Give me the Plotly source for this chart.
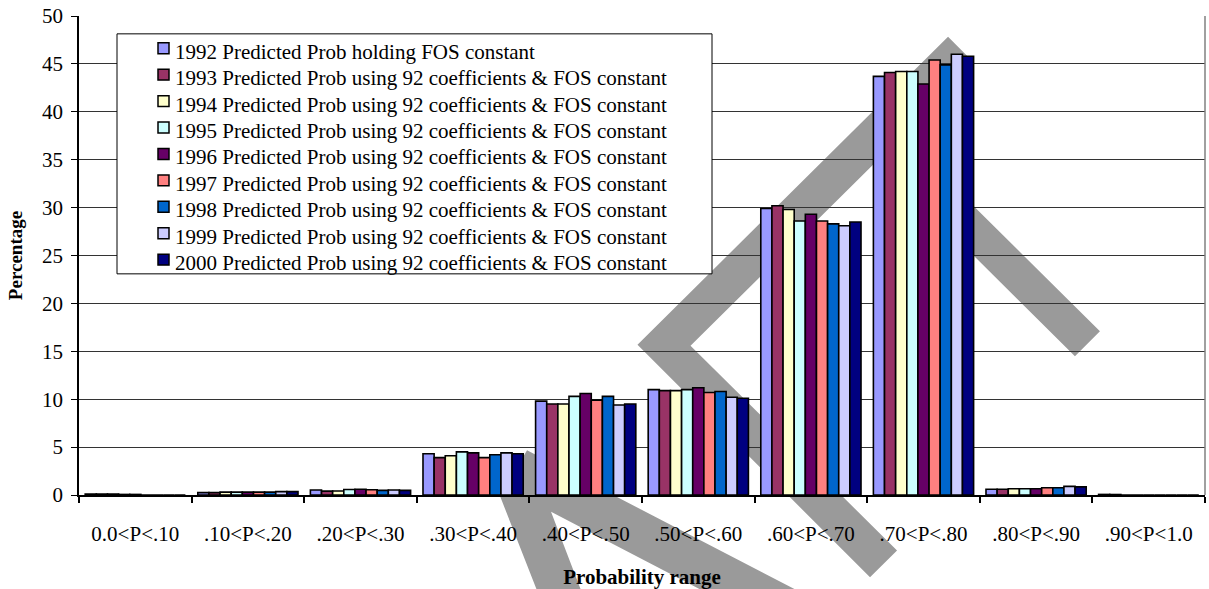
import plotly.graph_objects as go

# Probability ranges on the category axis
categories = ["0.0<P<.10", ".10<P<.20", ".20<P<.30", ".30<P<.40", ".40<P<.50",
              ".50<P<.60", ".60<P<.70", ".70<P<.80", ".80<P<.90", ".90<P<1.0"]

# Percentage of cases in each range, one list per year
pct_1992 = [0.10, 0.25, 0.52, 4.3, 9.8, 11.0, 29.9, 43.7, 0.60, 0.06]
pct_1993 = [0.10, 0.25, 0.40, 3.9, 9.5, 10.9, 30.2, 44.1, 0.60, 0.05]
pct_1994 = [0.10, 0.30, 0.42, 4.1, 9.5, 10.9, 29.8, 44.2, 0.65, 0.0]
pct_1995 = [0.06, 0.30, 0.58, 4.5, 10.3, 11.0, 28.6, 44.2, 0.65, 0.0]
pct_1996 = [0.06, 0.30, 0.60, 4.4, 10.6, 11.2, 29.3, 42.9, 0.65, 0.0]
pct_1997 = [0.0, 0.30, 0.55, 3.9, 9.9, 10.7, 28.6, 45.4, 0.75, 0.0]
pct_1998 = [0.0, 0.30, 0.48, 4.2, 10.3, 10.8, 28.3, 44.9, 0.75, 0.0]
pct_1999 = [0.0, 0.35, 0.52, 4.4, 9.4, 10.2, 28.1, 46.0, 0.90, 0.0]
pct_2000 = [0.0, 0.35, 0.48, 4.3, 9.5, 10.1, 28.5, 45.8, 0.85, 0.0]

series_names = [
    "1992 Predicted Prob holding FOS constant",
    "1993 Predicted Prob using 92 coefficients & FOS constant",
    "1994 Predicted Prob using 92 coefficients & FOS constant",
    "1995 Predicted Prob using 92 coefficients & FOS constant",
    "1996 Predicted Prob using 92 coefficients & FOS constant",
    "1997 Predicted Prob using 92 coefficients & FOS constant",
    "1998 Predicted Prob using 92 coefficients & FOS constant",
    "1999 Predicted Prob using 92 coefficients & FOS constant",
    "2000 Predicted Prob using 92 coefficients & FOS constant",
]
series_values = [pct_1992, pct_1993, pct_1994, pct_1995, pct_1996,
                 pct_1997, pct_1998, pct_1999, pct_2000]
series_colors = ["#9999FF", "#993366", "#FFFFCC", "#CCFFFF", "#660066",
                 "#FF8080", "#0066CC", "#CCCCFF", "#000080"]

W, H = 1209, 589
M_L, M_R, M_T, M_B = 79, 4, 14, 92
PW, PH = W - M_L - M_R, H - M_T - M_B
SERIF = "Liberation Serif, Times New Roman, serif"
FS = 21

fig = go.Figure()
for name, vals, col in zip(series_names, series_values, series_colors):
    fig.add_trace(go.Bar(
        x=categories, y=vals, name=name, showlegend=False,
        marker=dict(color=col, line=dict(color="black", width=1.6)),
    ))


def px_x(px):
    return (px - M_L) / PW


def px_y(py):
    return (H - M_B - py) / PH


def poly_path(pts):
    return "M" + " L".join(f"{px_x(x):.4f},{px_y(y):.4f}" for x, y in pts) + " Z"


# grey background stamp behind the plot
stamp_main = [(870, 580), (637.5, 345.5), (948, 35), (970, 57), (970, 202),
              (1100, 332), (1075, 357), (930, 212), (930, 107),
              (690.5, 346.5), (897, 553)]
stamp_low = [(527, 452), (812, 601), (717, 601), (551, 514),
             (584, 601), (540, 601), (500, 498)]

shapes = []
for pts in (stamp_main, stamp_low):
    shapes.append(dict(type="path", xref="paper", yref="paper",
                       path=poly_path(pts), fillcolor="#9a9a9a",
                       line=dict(width=0), layer="below"))
# right frame of the plot area
shapes.append(dict(type="line", xref="paper", yref="paper", x0=1, x1=1, y0=0, y1=1,
                   line=dict(color="#808080", width=1.5)))

# legend panel: white box, one colour key and label per series
LEG_L, LEG_T, LEG_R, LEG_B = 117, 32, 712, 274
ROW0, ROW_STEP = 50, 26.65
shapes.append(dict(type="rect", xref="paper", yref="paper",
                   x0=px_x(LEG_L), x1=px_x(LEG_R), y0=px_y(LEG_B), y1=px_y(LEG_T),
                   fillcolor="white", line=dict(color="black", width=1), layer="above"))
annotations = []
for i, (name, col) in enumerate(zip(series_names, series_colors)):
    yc = ROW0 + i * ROW_STEP
    shapes.append(dict(type="rect", xref="paper", yref="paper",
                       x0=px_x(158), x1=px_x(169), y0=px_y(yc + 2), y1=px_y(yc - 9),
                       fillcolor=col, line=dict(color="black", width=1.5), layer="above"))
    annotations.append(dict(text=name, xref="paper", yref="paper",
                            x=px_x(173), y=px_y(yc), xanchor="left", yanchor="middle",
                            showarrow=False,
                            font=dict(family=SERIF, size=FS, color="black")))

fig.update_layout(
    width=W, height=H,
    margin=dict(l=M_L, r=M_R, t=M_T, b=M_B, pad=0),
    paper_bgcolor="white", plot_bgcolor="rgba(0,0,0,0)",
    barmode="group", bargap=0.11, bargroupgap=0.0,
    font=dict(family=SERIF, size=FS, color="black"),
    shapes=shapes, annotations=annotations,
    showlegend=False,
    xaxis=dict(
        type="category", tickson="boundaries", ticks="outside", ticklen=6,
        tickcolor="black", tickwidth=1.5, showline=True, linecolor="black",
        linewidth=2, showgrid=False, ticklabelstandoff=19,
        tickfont=dict(family=SERIF, size=FS),
        title=dict(text="<b>Probability range</b>", standoff=24,
                   font=dict(family=SERIF, size=FS)),
    ),
    yaxis=dict(
        range=[0, 50], dtick=5, ticks="outside", ticklen=6, tickcolor="black",
        tickwidth=1, showline=True, linecolor="black", linewidth=1.5,
        showgrid=True, gridcolor="#333333", gridwidth=1, zeroline=False,
        ticklabelstandoff=4, tickfont=dict(family=SERIF, size=FS),
        title=dict(text="<b>Percentage</b>", standoff=14,
                   font=dict(family=SERIF, size=19)),
    ),
)

fig.write_html("out.html")
